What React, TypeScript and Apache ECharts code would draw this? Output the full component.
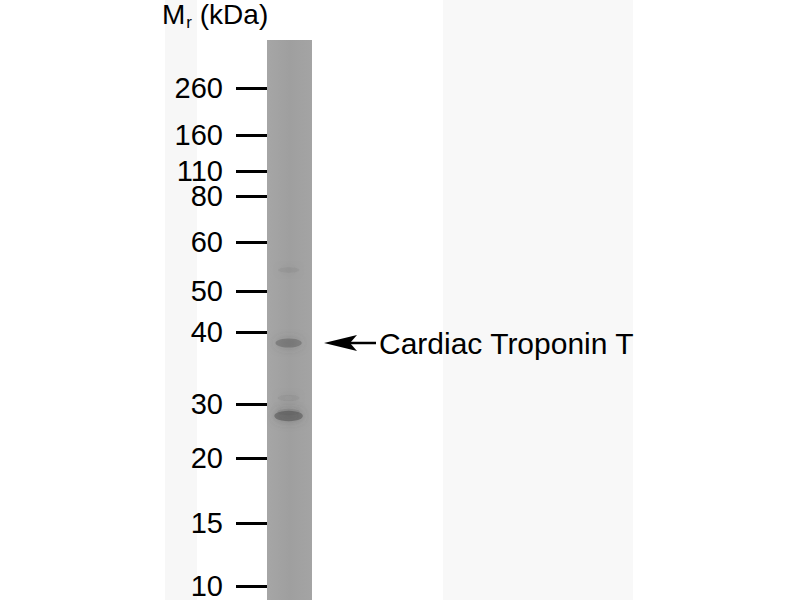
import { useEffect, useRef } from 'react';
import * as echarts from 'echarts';

// molecular weight ladder: kDa label and migration distance (mm from the well)
const markerKda = ['260', '160', '110', '80', '60', '50', '40', '30', '20', '15', '10'];
const markerMigration = [4.8, 9.5, 13.1, 15.6, 20.2, 25.1, 29.2, 36.4, 41.8, 48.3, 54.6];

// sample lane bands: migration (mm) and relative intensity
const bandMigration = [23.0, 30.3, 35.8, 37.2, 37.6];
const bandIntensity = [0.1, 0.45, 0.12, 0.18, 0.62];

const targetLabel = 'Cardiac Troponin T';
const targetMigration = 30.3;
const laneLength = 56;

const fontFamily = '"Liberation Sans", Arial, sans-serif';

export default function App() {
  const chartRef = useRef<HTMLDivElement | null>(null);

  useEffect(() => {
    if (!chartRef.current) {
      return;
    }

    const chart = echarts.init(chartRef.current, undefined, { renderer: 'svg' });

    chart.setOption({
      animation: false,
      backgroundColor: '#ffffff',
      title: {
        left: 162,
        top: 0,
        padding: 0,
        text: '{m|M}{r|r}{k| (kDa)}',
        textStyle: {
          rich: {
            m: { fontSize: 28, fontFamily, fontWeight: 'normal', color: '#000', lineHeight: 28, verticalAlign: 'top' },
            r: {
              fontSize: 17,
              fontFamily,
              fontWeight: 'normal',
              color: '#000',
              lineHeight: 17,
              verticalAlign: 'top',
              padding: [14, 0, 0, 1],
            },
            k: { fontSize: 28, fontFamily, fontWeight: 'normal', color: '#000', lineHeight: 28, verticalAlign: 'top' },
          },
        },
      },
      grid: {
        left: 267,
        width: 45,
        top: 40,
        bottom: 0,
        outerBoundsMode: 'none',
        containLabel: false,
        show: true,
        borderWidth: 0,
        backgroundColor: {
          type: 'linear',
          x: 0,
          y: 0,
          x2: 1,
          y2: 0,
          colorStops: [
            { offset: 0, color: '#a6a6a6' },
            { offset: 0.5, color: '#9f9f9f' },
            { offset: 1, color: '#a4a4a4' },
          ],
        },
      },
      xAxis: {
        type: 'value',
        min: 0,
        max: 1,
        show: false,
      },
      yAxis: {
        type: 'value',
        inverse: true,
        min: 0,
        max: laneLength,
        offset: 3,
        axisLine: { show: false },
        splitLine: { show: false },
        axisTick: {
          show: true,
          length: 31,
          customValues: markerMigration,
          lineStyle: { color: '#000', width: 3 },
        },
        axisLabel: {
          customValues: markerMigration,
          margin: 41,
          fontSize: 29,
          color: '#000',
          fontFamily,
          formatter: (value: number) => {
            const i = markerMigration.findIndex((m) => Math.abs(m - value) < 1e-6);
            return i >= 0 ? markerKda[i] : '';
          },
        },
      },
      series: [
        {
          type: 'scatter',
          data: bandMigration.map((m, i) => [0.48, m, bandIntensity[i]]),
          symbol: 'circle',
          symbolSize: (val: number[]) => [20 + 14 * val[2], 5 + 9 * val[2]],
          itemStyle: {
            color: (p: any) => `rgba(75,75,75,${p.value[2]})`,
            shadowBlur: 10,
            shadowColor: 'rgba(75,75,75,0.7)',
          },
          silent: true,
        },
      ],
    });

    const y = chart.convertToPixel({ gridIndex: 0 }, [0, targetMigration])[1];

    chart.setOption({
      graphic: [
        { type: 'rect', z: -10, shape: { x: 165, y: 0, width: 32, height: 600 }, style: { fill: '#f7f7f7' } },
        { type: 'rect', z: -10, shape: { x: 443, y: 0, width: 190, height: 600 }, style: { fill: '#f8f8f8' } },
        {
          type: 'polygon',
          shape: { points: [[324, y], [357, y - 8], [350, y], [357, y + 8]] },
          style: { fill: '#000' },
        },
        {
          type: 'line',
          shape: { x1: 348, y1: y, x2: 376, y2: y },
          style: { stroke: '#000', lineWidth: 2.5 },
        },
        {
          type: 'text',
          x: 379,
          y,
          style: {
            text: targetLabel,
            fontSize: 30,
            fontFamily,
            fill: '#000',
            verticalAlign: 'middle',
          },
        },
      ],
    });

    return () => {
      chart.dispose();
    };
  }, []);

  return (
    <div
      ref={chartRef}
      style={{ position: 'absolute', left: 0, top: 0, width: 800, height: 600 }}
    />
  );
}
